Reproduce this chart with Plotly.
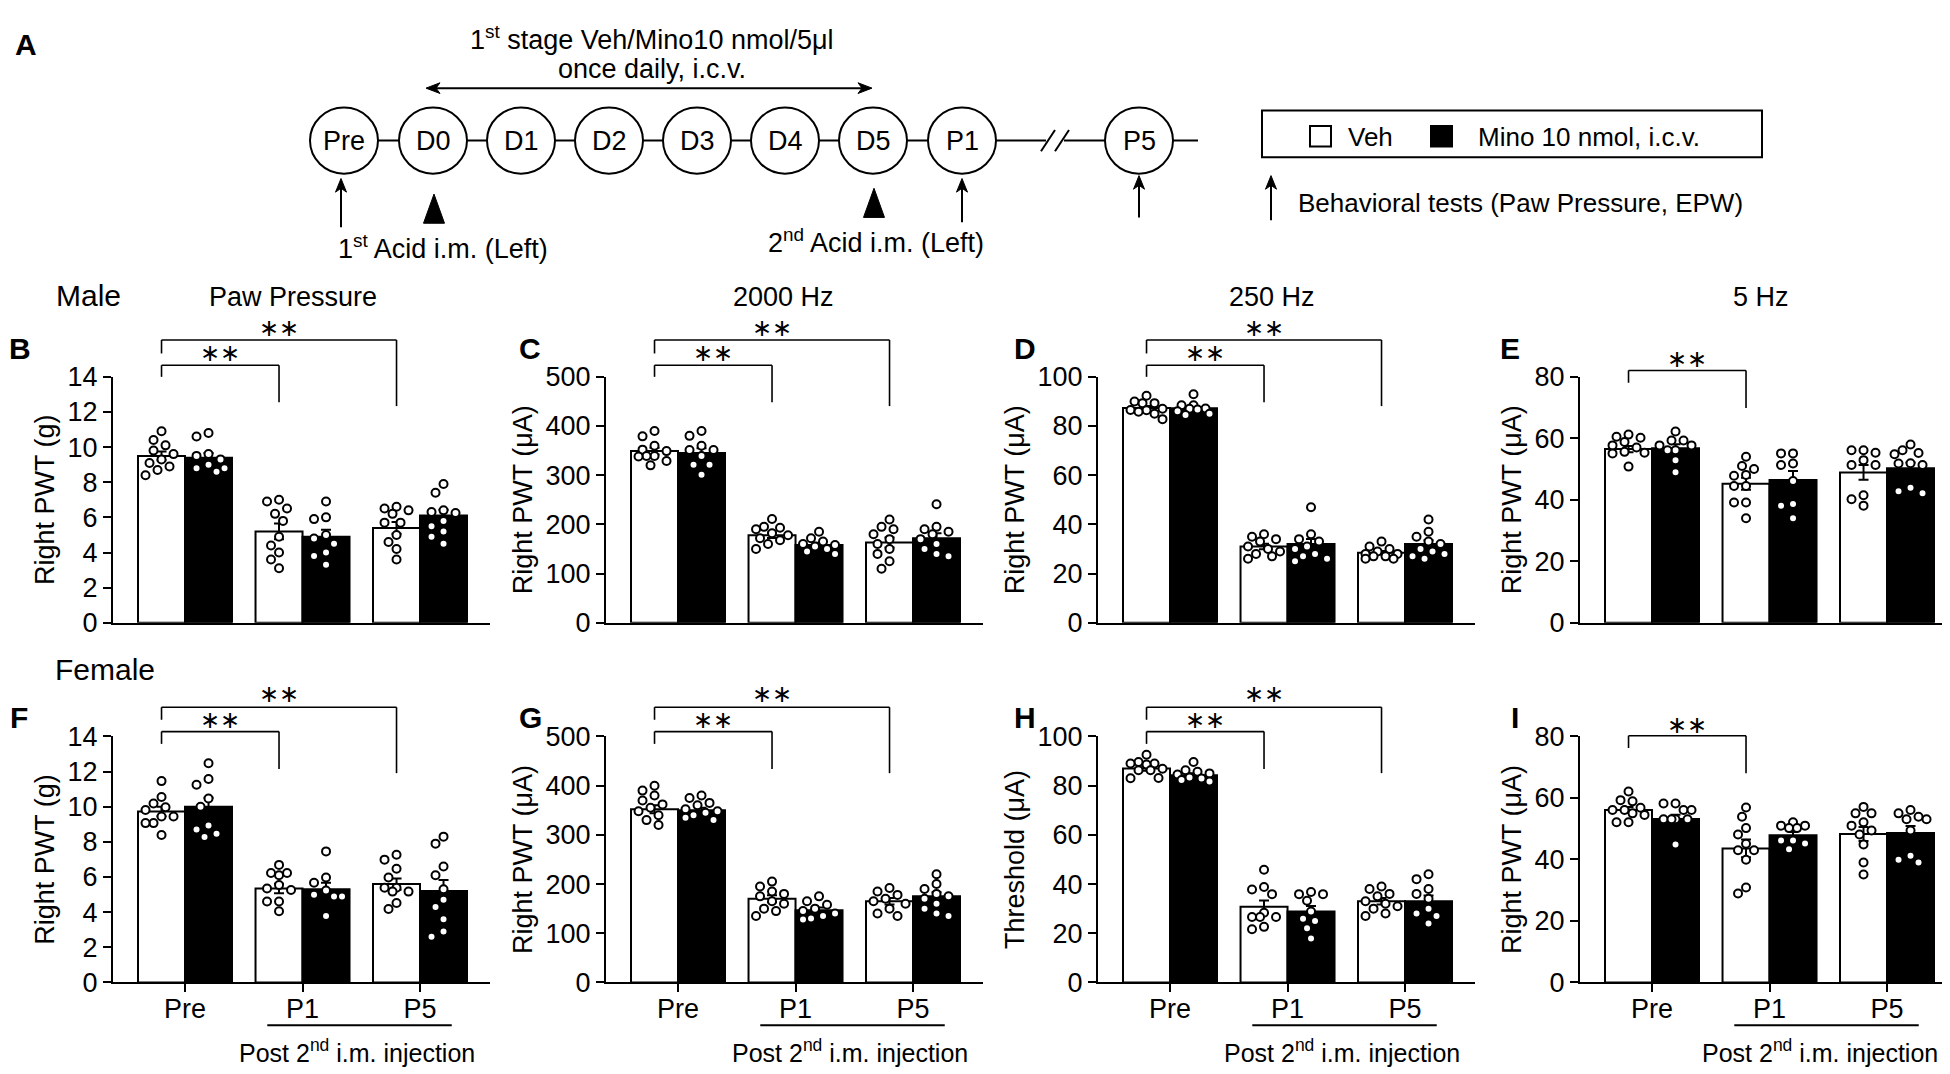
import numpy as np
import plotly.graph_objects as go

W, H = 1950, 1074
FONT = "Liberation Sans, Arial, sans-serif"

groups = ["Pre", "P1", "P5"]
row_titles = ["Paw Pressure", "2000 Hz", "250 Hz", "5 Hz"]
timeline = ["Pre", "D0", "D1", "D2", "D3", "D4", "D5", "P1", "P5"]

# ---- Male ----
male_paw_veh_mean = [9.5, 5.2, 5.4]
male_paw_mino_mean = [9.4, 4.9, 6.1]
male_paw_veh = [[10.9, 10.4, 10.1, 9.8, 9.6, 9.3, 9.1, 8.9, 8.7, 8.4],
                [7.0, 6.9, 6.5, 6.2, 5.8, 4.9, 4.4, 4.0, 3.6, 3.1],
                [6.6, 6.5, 6.4, 6.2, 5.7, 5.7, 5.0, 4.6, 4.2, 3.6]]
male_paw_mino = [[10.8, 10.6, 9.6, 9.5, 9.3, 9.0, 8.8, 8.8, 8.6],
                 [6.9, 6.0, 5.9, 5.0, 4.8, 4.5, 4.0, 3.8, 3.3],
                 [7.9, 7.4, 6.4, 6.3, 6.25, 5.8, 5.5, 5.2, 4.9, 4.5]]

male_2000_veh_mean = [349, 178, 163]
male_2000_mino_mean = [345, 158, 172]
male_2000_veh = [[390, 379, 360, 352, 349, 339, 339, 338, 329, 320],
                 [211, 195, 193, 190, 182, 178, 172, 168, 160, 150],
                 [210, 195, 190, 180, 170, 160, 150, 140, 125, 110]]
male_2000_mino = [[390, 380, 360, 351, 351, 339, 321, 321, 301],
                  [185, 172, 165, 160, 158, 155, 150, 145, 140],
                  [241, 195, 190, 185, 180, 170, 160, 150, 140, 135]]

male_250_veh_mean = [87.3, 31, 28.5]
male_250_mino_mean = [87.2, 32, 32]
male_250_veh = [[92.3, 90.0, 89.3, 89.3, 87.0, 86.5, 86.4, 85.8, 85.0, 82.8],
                [36, 35, 34, 33, 31, 30, 29, 28, 27, 26],
                [33, 31, 30, 29, 28, 28, 27, 27, 26, 26]]
male_250_mino = [[92.9, 88.4, 88.4, 87.1, 87.0, 86.7, 86.0, 85.0, 84.5],
                 [47, 36, 34, 33, 31, 30, 28, 27, 26, 25],
                 [42, 37, 35, 33, 32, 30, 29, 28, 27, 26]]

male_5_veh_mean = [56.5, 45.2, 48.9]
male_5_mino_mean = [56.8, 46.4, 50.3]
male_5_veh = [[61.2, 60.5, 60.2, 58.8, 57.7, 57.0, 55.6, 55.3, 55.1, 50.8],
              [54.0, 51.0, 50.0, 48.1, 47.8, 44.5, 44.5, 39.1, 39.1, 34.0],
              [56.1, 56.1, 55.3, 52.9, 51.3, 51.3, 41.5, 40.2, 38.1]]
male_5_mino = [[62.2, 59.3, 59.3, 57.7, 57.7, 56.1, 56.1, 52.9, 49.0],
               [55.1, 55.1, 51.8, 51.3, 46.1, 38.6, 38.1, 34.0],
               [58.0, 56.1, 55.2, 54.8, 51.9, 51.8, 51.3, 43.9, 42.8, 42.1]]

# ---- Female ----
female_paw_veh_mean = [9.73, 5.35, 5.6]
female_paw_mino_mean = [10.0, 5.3, 5.2]
female_paw_veh = [[11.46, 10.56, 10.19, 9.97, 9.82, 9.45, 9.45, 9.07, 9.07, 8.39],
                  [6.69, 6.23, 6.23, 6.1, 5.54, 5.35, 5.26, 4.61, 4.61, 4.05],
                  [7.27, 6.99, 6.47, 5.97, 5.39, 5.39, 5.17, 5.17, 4.52, 4.18]]
female_paw_mino = [[12.48, 11.58, 11.25, 10.47, 10.0, 8.94, 8.7, 8.46, 8.28],
                   [7.46, 5.97, 5.67, 5.23, 4.99, 4.89, 4.89, 3.78],
                   [8.3, 7.9, 6.6, 6.1, 5.3, 4.7, 4.3, 3.6, 2.9, 2.6]]

female_2000_veh_mean = [352, 170, 165]
female_2000_mino_mean = [350, 147, 175]
female_2000_veh = [[400, 390, 380, 370, 362, 355, 348, 340, 330, 320],
                   [205, 195, 185, 180, 175, 165, 160, 150, 145, 135],
                   [192, 185, 178, 170, 165, 160, 150, 140, 135]]
female_2000_mino = [[380, 375, 365, 360, 352, 348, 345, 340, 335, 330],
                    [175, 165, 158, 150, 145, 140, 135, 130, 128],
                    [220, 200, 190, 180, 175, 170, 160, 150, 140, 135]]

female_250_veh_mean = [87.0, 30.8, 33]
female_250_mino_mean = [84.2, 28.8, 33]
female_250_veh = [[92.6, 89.6, 89.0, 89.0, 88.6, 86.9, 86.3, 86.3, 83.1, 83.0],
                  [45.8, 38.8, 37.8, 35.9, 28.3, 26.6, 26.6, 26.6, 22.6, 21.6],
                  [39, 38, 36, 35, 33, 32, 31, 30, 28, 27]]
female_250_mino = [[89.6, 86.3, 85.7, 85.0, 84.5, 83.3, 82.9, 82.3, 81.7],
                   [36.8, 35.9, 35.9, 33.2, 28.8, 25.9, 25.0, 22.0, 17.9],
                   [44, 42, 38, 36, 34, 30, 28, 27, 24]]

female_5_veh_mean = [56.1, 43.6, 48.3]
female_5_mino_mean = [53.2, 47.9, 48.6]
female_5_veh = [[62.1, 59.3, 58.9, 56.8, 56.1, 56.1, 55.0, 54.5, 52.1, 52.1],
                [56.9, 53.9, 50.2, 48.1, 45.1, 43.0, 43.0, 39.9, 30.9, 28.9],
                [57.1, 55.0, 55.0, 52.1, 51.0, 49.4, 48.1, 44.9, 39.0, 35.1]]
female_5_mino = [[58.2, 58.2, 56.1, 56.1, 53.1, 53.1, 53.1, 53.1, 44.9],
                 [52.1, 51.0, 51.0, 50.2, 50.2, 46.2, 46.2, 45.2, 43.3],
                 [56.1, 55.0, 53.9, 53.1, 53.1, 49.4, 41.2, 39.9, 39.0]]

panels = [
    dict(tag="B", veh=male_paw_veh, mino=male_paw_mino, vm=male_paw_veh_mean, mm=male_paw_mino_mean,
         ymax=14, dtick=2, ytitle="Right PWT (g)", row=0, col=0, lx=12),
    dict(tag="C", veh=male_2000_veh, mino=male_2000_mino, vm=male_2000_veh_mean, mm=male_2000_mino_mean,
         ymax=500, dtick=100, ytitle="Right PWT (μA)", row=0, col=1, lx=522),
    dict(tag="D", veh=male_250_veh, mino=male_250_mino, vm=male_250_veh_mean, mm=male_250_mino_mean,
         ymax=100, dtick=20, ytitle="Right PWT (μA)", row=0, col=2, lx=1017),
    dict(tag="E", veh=male_5_veh, mino=male_5_mino, vm=male_5_veh_mean, mm=male_5_mino_mean,
         ymax=80, dtick=20, ytitle="Right PWT (μA)", row=0, col=3, lx=1502),
    dict(tag="F", veh=female_paw_veh, mino=female_paw_mino, vm=female_paw_veh_mean, mm=female_paw_mino_mean,
         ymax=14, dtick=2, ytitle="Right PWT (g)", row=1, col=0, lx=11),
    dict(tag="G", veh=female_2000_veh, mino=female_2000_mino, vm=female_2000_veh_mean, mm=female_2000_mino_mean,
         ymax=500, dtick=100, ytitle="Right PWT (μA)", row=1, col=1, lx=522),
    dict(tag="H", veh=female_250_veh, mino=female_250_mino, vm=female_250_veh_mean, mm=female_250_mino_mean,
         ymax=100, dtick=20, ytitle="Threshold (μA)", row=1, col=2, lx=1017),
    dict(tag="I", veh=female_5_veh, mino=female_5_mino, vm=female_5_veh_mean, mm=female_5_mino_mean,
         ymax=80, dtick=20, ytitle="Right PWT (μA)", row=1, col=3, lx=1507),
]

# layout geometry (pixels)
AXIS_X = [105, 598, 1090, 1572]
ROW_Y = [(364, 617), (734, 987)]
XR = [-0.613, 2.596]
UNIT = 117.5
PANEL_W = (XR[1] - XR[0]) * UNIT
BAR_OFF = 0.2
BAR_W = 0.4

# bracket levels in y-domain units: (horizontal, left end, right end, star, target group)
BRACKETS = {
    0: [(1.047, 1.0, 0.897, 1.095, 1), (1.150, 1.095, 0.881, 1.198, 2)],
    1: [(1.020, 0.970, 0.868, 1.066, 1), (1.119, 1.068, 0.851, 1.171, 2)],
}
SINGLE = {0: (1.026, 0.976, 0.873, 1.071, 1), 1: (1.003, 0.953, 0.851, 1.046, 1)}
STARS = "\u2217\u2217"


def px(x):
    return x / W


def py(y):
    return 1 - y / H


def swarm(vals, ypx, step=4.0, gap=10.0, limit=19):
    # simple beeswarm: spread dots of similar value sideways within the bar
    cands = [0.0]
    k = 1
    while k * step <= limit:
        cands += [-k * step, k * step]
        k += 1
    placed = []
    offs = [0.0] * len(vals)
    for i in sorted(range(len(vals)), key=lambda j: -vals[j]):
        y = vals[i] * ypx
        best, bestd = 0.0, -1.0
        for c in cands:
            d = min([np.hypot(c - a, y - b) for a, b in placed], default=1e9)
            if d >= gap:
                best = c
                break
            if d > bestd:
                best, bestd = c, d
        placed.append((best, y))
        offs[i] = best
    return [o / UNIT for o in offs]


def sem(vals):
    v = np.array(vals, dtype=float)
    return float(v.std(ddof=1) / np.sqrt(len(v)))


fig = go.Figure()
shapes = []
annotations = []
layout_axes = {}


def xdom(x):
    return (x - XR[0]) / (XR[1] - XR[0])


def text(x, y, s, size=27, anchor="center", bold=False, xref="paper", yref="paper", family=FONT):
    if bold:
        s = "<b>" + s + "</b>"
    annotations.append(dict(x=x, y=y, xref=xref, yref=yref, text=s, showarrow=False,
                            xanchor=anchor, yanchor="middle",
                            font=dict(family=family, size=size, color="black")))


def pline(xa, ya, xb, yb, width=2):
    shapes.append(dict(type="line", xref="paper", yref="paper", x0=px(xa), y0=py(ya),
                       x1=px(xb), y1=py(yb), line=dict(color="black", width=width)))


def head(x, y, direction, length=14, half=5.5):
    # filled arrowhead, tip at (x, y); direction: "up", "left", "right"
    if direction == "up":
        pts = [(x, y), (x - half, y + length), (x, y + length - 4), (x + half, y + length)]
    elif direction == "left":
        pts = [(x, y), (x + length, y - half), (x + length - 4, y), (x + length, y + half)]
    else:
        pts = [(x, y), (x - length, y - half), (x - length + 4, y), (x - length, y + half)]
    path = "M " + " L ".join(f"{px(a)},{py(b)}" for a, b in pts) + " Z"
    shapes.append(dict(type="path", xref="paper", yref="paper", path=path,
                       fillcolor="black", line=dict(color="black", width=1)))


for k, p in enumerate(panels):
    n = k + 1
    sx = "" if n == 1 else str(n)
    xname, yname = "x" + sx, "y" + sx
    row, col = p["row"], p["col"]
    x0 = AXIS_X[col]
    top, bot = ROW_Y[row]
    ypx = (bot - top) / p["ymax"]

    layout_axes["xaxis" + sx] = dict(
        domain=[px(x0), px(x0 + PANEL_W)], range=XR, anchor=yname,
        tickvals=[0, 1, 2], ticktext=groups, showticklabels=row == 1,
        ticks="outside" if row == 1 else "", ticklen=8, tickwidth=2, tickcolor="black",
        ticklabelstandoff=-7,
        showline=True, linewidth=2, linecolor="black", showgrid=False, zeroline=False,
        tickfont=dict(family=FONT, size=27, color="black"), fixedrange=True)
    layout_axes["yaxis" + sx] = dict(
        domain=[py(bot), py(top)], range=[0, p["ymax"]], anchor=xname, dtick=p["dtick"],
        ticks="outside", ticklen=8, tickwidth=2, tickcolor="black",
        showline=True, linewidth=2, linecolor="black", showgrid=False, zeroline=False,
        tickfont=dict(family=FONT, size=27, color="black"),
        title=dict(text=p["ytitle"], font=dict(family=FONT, size=27, color="black"), standoff=5))

    xs_veh = [g - BAR_OFF for g in range(3)]
    xs_mino = [g + BAR_OFF for g in range(3)]
    fig.add_trace(go.Bar(x=xs_veh, y=p["vm"], width=BAR_W, xaxis=xname, yaxis=yname,
                         marker=dict(color="white", line=dict(color="black", width=2)),
                         error_y=dict(type="data", array=[sem(v) for v in p["veh"]],
                                      thickness=2, width=5, color="black")))
    fig.add_trace(go.Bar(x=xs_mino, y=p["mm"], width=BAR_W, xaxis=xname, yaxis=yname,
                         marker=dict(color="black", line=dict(color="black", width=2)),
                         error_y=dict(type="data", array=[sem(v) for v in p["mino"]],
                                      thickness=2, width=5, color="black")))
    for series, xs in ((p["veh"], xs_veh), (p["mino"], xs_mino)):
        dx, dy = [], []
        for g, vals in enumerate(series):
            offs = swarm(vals, ypx)
            dx += [xs[g] + o for o in offs]
            dy += vals
        fig.add_trace(go.Scatter(x=dx, y=dy, mode="markers", xaxis=xname, yaxis=yname,
                                 cliponaxis=False,
                                 marker=dict(size=8, color="white",
                                             line=dict(color="black", width=2))))

    # significance brackets
    xref_d, yref_d = xname + " domain", yname + " domain"
    blist = [SINGLE[row]] if col == 3 else BRACKETS[row]
    for h, le, re, star, target in blist:
        xl, xr = 0 - BAR_OFF, target - BAR_OFF
        for (a, b, c, d) in ((xl, le, xl, h), (xl, h, xr, h), (xr, h, xr, re)):
            shapes.append(dict(type="line", xref=xref_d, yref=yref_d,
                               x0=xdom(a), y0=b, x1=xdom(c), y1=d,
                               line=dict(color="black", width=1.6)))
        text((xl + xr) / 2, star, STARS, size=24, xref=xname, yref=yref_d,
             family="DejaVu Sans, Liberation Sans, sans-serif")

    # post-injection underline (bottom row)
    if row == 1:
        shapes.append(dict(type="line", xref=xref_d, yref=yref_d,
                           x0=xdom(1 - 0.3), x1=xdom(2 + 0.27), y0=-0.174, y1=-0.174,
                           line=dict(color="black", width=2)))
        text(1.46 if col < 3 else 1.43, -0.277, "Post 2<sup>nd</sup> i.m. injection",
             size=25, xref=xname, yref=yref_d)

    # panel letter
    text(px(p["lx"]), py(335 if row == 0 else 714), p["tag"], size=30, bold=True)

# row labels / titles
text(px(46), py(280), "Male", size=30, anchor="left")
text(px(45), py(665), "Female", size=30, anchor="left")
for cx, t in zip([285, 775, 1264, 1753], row_titles):
    text(px(cx), py(282), t, size=27)

# ---- panel A: timeline ----
text(px(5), py(22), "A", size=30, anchor="left", bold=True)
text(px(644), py(15), "1<sup>st</sup> stage Veh/Mino10 nmol/5μl", size=27)
text(px(644), py(47), "once daily, i.c.v.", size=27)
pline(425, 67, 857, 67)
head(418, 67, "left")
head(864, 67, "right")

CIRC_X = [336, 425, 513, 601, 689, 777, 865, 954, 1131]
CY, R = 121, 34
for a, b in ((336, 1038), (1056, 1190)):
    pline(a, CY, b, CY)
for sxp in (1040, 1054):
    pline(sxp - 7, CY + 11, sxp + 7, CY - 11)
for cx, lab in zip(CIRC_X, timeline):
    shapes.append(dict(type="circle", xref="paper", yref="paper",
                       x0=px(cx - R), x1=px(cx + R), y0=py(CY + R), y1=py(CY - R),
                       fillcolor="white", line=dict(color="black", width=2)))
    text(px(cx), py(CY), lab, size=27)

# behavioural-test arrows and acid-injection triangles
for ax_x, tip, tail in ((333, 160, 210), (954, 160, 205), (1131, 157, 200), (1263, 157, 203)):
    pline(ax_x, tip + 8, ax_x, tail)
    head(ax_x, tip, "up")
for tx, apex, base in ((426, 176, 206), (866, 170, 200)):
    shapes.append(dict(type="path", xref="paper", yref="paper",
                       path=f"M {px(tx - 10.5)},{py(base)} L {px(tx)},{py(apex)} L {px(tx + 10.5)},{py(base)} Z",
                       fillcolor="black", line=dict(color="black", width=1)))
text(px(435), py(230), "1<sup>st</sup> Acid i.m. (Left)", size=27)
text(px(868), py(224), "2<sup>nd</sup> Acid i.m. (Left)", size=27)

# legend box
shapes.append(dict(type="rect", xref="paper", yref="paper", x0=px(1254), x1=px(1754),
                   y0=py(138), y1=py(90), line=dict(color="black", width=2)))
shapes.append(dict(type="rect", xref="paper", yref="paper", x0=px(1302), x1=px(1323),
                   y0=py(127), y1=py(106), line=dict(color="black", width=2), fillcolor="white"))
shapes.append(dict(type="rect", xref="paper", yref="paper", x0=px(1423), x1=px(1444),
                   y0=py(127), y1=py(106), line=dict(color="black", width=2), fillcolor="black"))
text(px(1338), py(117), "Veh", size=26, anchor="left")
text(px(1468), py(117), "Mino 10 nmol, i.c.v.", size=26, anchor="left")
text(px(1288), py(185), "Behavioral tests (Paw Pressure, EPW)", size=26, anchor="left")

fig.update_layout(
    width=W, height=H, margin=dict(l=0, r=0, t=0, b=0),
    paper_bgcolor="white", plot_bgcolor="white", showlegend=False,
    barmode="overlay", shapes=shapes, annotations=annotations,
    font=dict(family=FONT, color="black"), **layout_axes)

fig.write_html("out.html")
